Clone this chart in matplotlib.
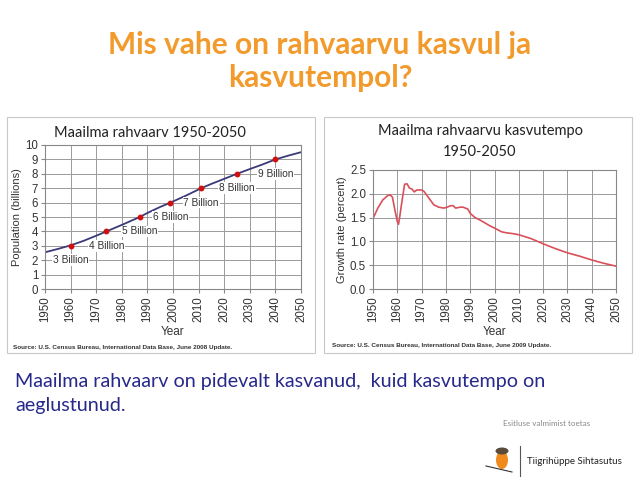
import numpy as np
import matplotlib.pyplot as plt
from matplotlib.patches import Rectangle, Ellipse

# ---- data ----
pop_years = [1950, 1955, 1960, 1965, 1970, 1974, 1980, 1987, 1990, 1995, 1999,
             2005, 2011, 2015, 2020, 2025, 2030, 2035, 2040, 2045, 2050]
pop_vals = [2.55, 2.78, 3.03, 3.34, 3.70, 4.00, 4.45, 5.00, 5.28, 5.70, 6.00,
            6.48, 7.00, 7.30, 7.65, 8.00, 8.33, 8.65, 9.00, 9.26, 9.50]
milestone_years = [1960, 1974, 1987, 1999, 2011, 2025, 2040]
milestone_vals = [3, 4, 5, 6, 7, 8, 9]
milestone_labels = ['3 Billion', '4 Billion', '5 Billion', '6 Billion',
                    '7 Billion', '8 Billion', '9 Billion']

gr_years = [1950, 1952, 1954, 1956, 1957, 1958, 1959, 1960, 1960.5, 1961, 1962,
            1963, 1964, 1965, 1966, 1967, 1968, 1969, 1970, 1971, 1972, 1973,
            1975, 1977, 1979, 1980, 1982, 1983, 1984, 1986, 1987, 1988, 1989,
            1990, 1992, 1994, 1996, 1998, 2000, 2003, 2005, 2008, 2010, 2015,
            2020, 2025, 2030, 2035, 2040, 2045, 2050]
gr_vals = [1.48, 1.70, 1.87, 1.96, 1.98, 1.93, 1.66, 1.42, 1.36, 1.52, 1.87,
           2.20, 2.21, 2.12, 2.10, 2.04, 2.08, 2.08, 2.08, 2.05, 1.98, 1.91,
           1.77, 1.72, 1.70, 1.71, 1.75, 1.75, 1.70, 1.72, 1.72, 1.70, 1.68,
           1.59, 1.50, 1.45, 1.39, 1.33, 1.28, 1.20, 1.18, 1.16, 1.14, 1.06,
           0.95, 0.85, 0.76, 0.69, 0.61, 0.54, 0.48]

year_ticks = list(range(1950, 2051, 10))

W, H = 640, 480
fig = plt.figure(figsize=(6.4, 4.8), dpi=100)
fig.patch.set_facecolor('white')

def fx(px):
    return px / W

def fy(py):
    return 1 - py / H

# chart frames (behind the axes)
for x0 in (7, 324):
    fig.patches.append(Rectangle((fx(x0), fy(353)), fx(308), 236 / H,
                                 transform=fig.transFigure, facecolor='white',
                                 edgecolor='#c8c8c8', lw=0.8, zorder=-5))

tick_font = dict(family='Liberation Sans', size=8.3)

def style_axes(ax):
    ax.set_xlim(1950, 2050)
    ax.set_xticks(year_ticks)
    ax.set_xticklabels([str(y) for y in year_ticks], rotation=90, **tick_font)
    ax.grid(True, color='#9a9a9a', lw=0.7)
    ax.set_axisbelow(True)
    for s in ax.spines.values():
        s.set_color('#888888')
        s.set_linewidth(0.8)
    ax.tick_params(length=3, color='#888888', pad=2, labelcolor='#333333')
    ax.set_xlabel('Year', family='Liberation Sans', size=8.5, labelpad=3, color='#333333')

# ---- left chart ----
ax1 = fig.add_axes([fx(45), fy(289), fx(256), 144 / H])
ax1.plot(pop_years, pop_vals, color='#3a3a78', lw=1.3)
ax1.plot(milestone_years, milestone_vals, 'o', color='#d01010', ms=3.2, zorder=3)
for yr, v, lab in zip(milestone_years, milestone_vals, milestone_labels):
    ax1.text(yr, v - 1, lab, ha='center', va='center', family='Liberation Sans',
             size=7.3, color='#333333', zorder=4,
             bbox=dict(facecolor='white', edgecolor='none', pad=0.6))
ax1.set_ylim(0, 10)
ax1.set_yticks(range(0, 11))
ax1.set_yticklabels([str(v) for v in range(0, 11)], **tick_font)
style_axes(ax1)
ax1.set_ylabel('Population (billions)', family='Liberation Sans', size=8,
               labelpad=2, color='#333333')

# ---- right chart ----
ax2 = fig.add_axes([fx(373), fy(289), fx(243), 119 / H])
ax2.plot(gr_years, gr_vals, color='#d9505a', lw=1.2)
ax2.set_ylim(0, 2.5)
gr_ticks = [0.0, 0.5, 1.0, 1.5, 2.0, 2.5]
ax2.set_yticks(gr_ticks)
ax2.set_yticklabels([f'{v:.1f}' for v in gr_ticks], **tick_font)
style_axes(ax2)
ax2.set_ylabel('Growth rate (percent)', family='Liberation Sans', size=8,
               labelpad=2, color='#333333')

# chart titles
fig.text(fx(150), fy(133), 'Maailma rahvaarv 1950-2050', ha='center', va='center',
         family='Lato', size=10.5, color='#222222')
fig.text(fx(480), fy(131), 'Maailma rahvaarvu kasvutempo', ha='center', va='center',
         family='Lato', size=10.5, color='#222222')
fig.text(fx(480), fy(152), '1950-2050', ha='center', va='center',
         family='Lato', size=10.5, color='#222222')

# sources
fig.text(fx(13), fy(347), 'Source: U.S. Census Bureau, International Data Base, June 2008 Update.',
         ha='left', va='center', family='Liberation Sans', weight='bold', size=4.6,
         color='#333333')
fig.text(fx(332), fy(345), 'Source: U.S. Census Bureau, International Data Base, June 2009 Update.',
         ha='left', va='center', family='Liberation Sans', weight='bold', size=4.6,
         color='#333333')

# slide title
fig.text(0.5, fy(45), 'Mis vahe on rahvaarvu kasvul ja', ha='center', va='center',
         family='Lato', weight='bold', size=21.5, color='#f29b2c')
fig.text(0.5, fy(78), 'kasvutempol?', ha='center', va='center',
         family='Lato', weight='bold', size=21.5, color='#f29b2c')

# bottom text
fig.text(fx(15), fy(381), 'Maailma rahvaarv on pidevalt kasvanud,  kuid kasvutempo on',
         ha='left', va='center', family='Lato', size=14.2, color='#27298a')
fig.text(fx(15), fy(406), 'aeglustunud.', ha='left', va='center',
         family='Lato', size=14.2, color='#27298a')

# sponsor block
fig.text(fx(547), fy(424), 'Esitluse valmimist toetas', ha='center', va='center',
         family='Lato', size=5.8, color='#888888')
fig.text(fx(527), fy(461), 'Tiigrihüppe Sihtasutus', ha='left', va='center',
         family='Lato', size=7, color='#222222')
fig.lines.append(plt.Line2D([fx(520), fx(520)], [fy(446), fy(476)],
                            transform=fig.transFigure, color='#555555', lw=0.8))
fig.patches.append(Ellipse((fx(502), fy(460)), fx(12), 18 / H,
                           transform=fig.transFigure, facecolor='#f08a1c',
                           edgecolor='none'))
fig.patches.append(Ellipse((fx(502), fy(451)), fx(13), 7 / H,
                           transform=fig.transFigure, facecolor='#5a4a3a',
                           edgecolor='none'))
fig.lines.append(plt.Line2D([fx(486), fx(512)], [fy(466), fy(472)],
                            transform=fig.transFigure, color='#333333', lw=0.8))

fig.savefig('out.png', dpi=100)
